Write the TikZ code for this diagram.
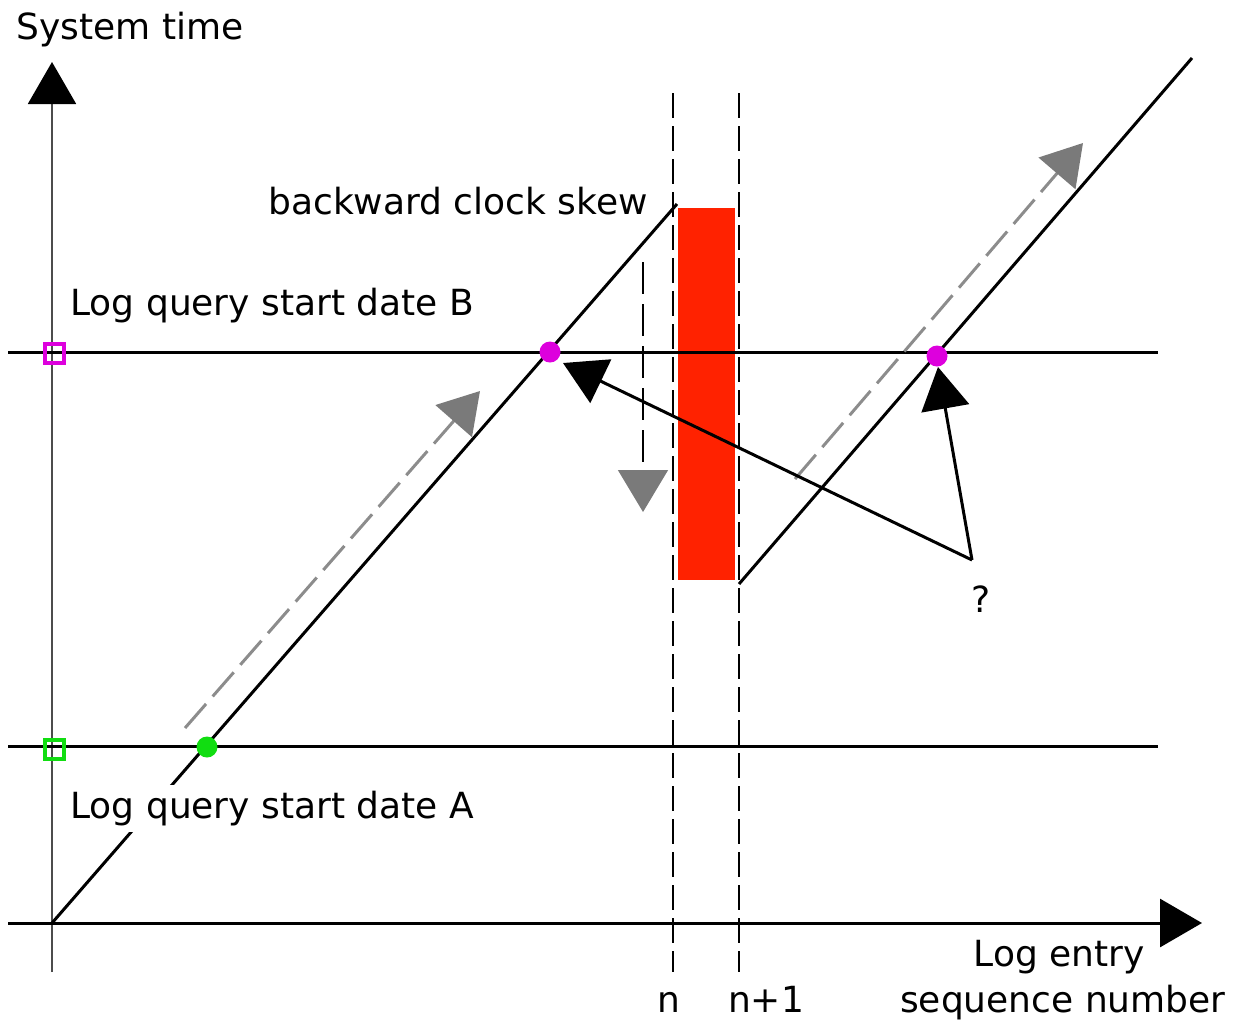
\documentclass[tikz,border=0pt]{standalone}
\usepackage{fontspec}
\setmainfont{DejaVu Sans}
\usetikzlibrary{arrows.meta}
\definecolor{mag}{HTML}{DD00DD}
\definecolor{grn}{HTML}{11DD11}
\definecolor{redbar}{HTML}{FF2200}
\definecolor{arrgray}{HTML}{7A7A7A}
\definecolor{dashgray}{HTML}{8C8C8C}
\begin{document}
\begin{tikzpicture}[x=0.5pt,y=-0.5pt,
  lbl/.style={font=\fontsize{18}{21}\selectfont, inner sep=0pt},
  thick line/.style={line width=1.5pt, black},
  bigtip/.style={-{Triangle[length=21pt,width=24pt]}},
  vdash/.style={line width=0.7pt, dash pattern=on 12.5pt off 4pt},
  graydash/.style={line width=1.5pt, dashgray, dash pattern=on 16pt off 5pt,
     -{Triangle[length=20pt,width=24pt,color=arrgray]}},
  dot/.style={circle, fill=#1, minimum size=10.5pt, inner sep=0pt},
  sq/.style={rectangle, draw=#1, line width=2pt, minimum size=9.5pt, inner sep=0pt, fill=none},
]
\useasboundingbox (0,0) rectangle (1238,1019);

% coordinates
\coordinate (yb) at (52,972);
\coordinate (yt) at (52,62);
\coordinate (xl) at (8,923);
\coordinate (xr) at (1202,923);
\coordinate (o) at (52,923);
\coordinate (d1t) at (677,204);
\coordinate (d2b) at (739,584);
\coordinate (d2t) at (1192,58);
\coordinate (hBl) at (8,352);
\coordinate (hBr) at (1158,352);
\coordinate (hAl) at (8,746);
\coordinate (hAr) at (1158,746);
\coordinate (vnT) at (673,93);
\coordinate (vnB) at (673,972);
\coordinate (vmT) at (739,93);
\coordinate (vmB) at (739,972);
\coordinate (g1s) at (185,728);
\coordinate (g1e) at (480,391);
\coordinate (g2s) at (795,479);
\coordinate (g2e) at (1083,143);
\coordinate (vs) at (643,262);
\coordinate (ve) at (643,512);
\coordinate (q) at (972,560);
\coordinate (t1) at (563,363);
\coordinate (t2) at (938,367);

% red bar
\fill[redbar] (678,208) rectangle (735,580);

% dashed verticals
\draw[vdash] (vnT) -- (vnB);
\draw[vdash] (vmT) -- (vmB);

% axes
\draw[line width=1pt, black!70, -{Triangle[length=21pt,width=24pt,color=black]}] (yb) -- (yt);
\draw[thick line, bigtip] (xl) -- (xr);

% horizontal lines
\draw[thick line] (hBl) -- (hBr);
\draw[thick line] (hAl) -- (hAr);

% diagonals
\draw[thick line] (o) -- (d1t);
\draw[thick line] (d2b) -- (d2t);

% gray dashed arrows
\draw[graydash] (g1s) -- (g1e);
\draw[graydash] (g2s) -- (g2e);
\draw[line width=0.75pt, black, dash pattern=on 16pt off 5pt,
  -{Triangle[length=21pt,width=25pt,color=arrgray]}] (vs) -- (ve);

% question arrows
\node[lbl, anchor=base] (qm) at (981,612) {?};
\draw[thick line, bigtip] (q) -- (t1);
\draw[thick line, bigtip] (q) -- (t2);

% markers
\node[sq=mag] (sqB) at (54,353) {};
\node[sq=grn] (sqA) at (54,749) {};
\node[dot=grn] (dA) at (207,747) {};
\node[dot=mag] (dB1) at (550,352) {};
\node[dot=mag] (dB2) at (937,356) {};

% labels
\node[lbl, anchor=base west] (st) at (16,39) {System time};
\node[lbl, anchor=base west] (bcs) at (268,214) {backward clock skew};
\node[lbl, anchor=base west] (lqB) at (70,315) {Log query start date B};
\node[lbl, anchor=base west, fill=white, inner xsep=2pt, inner ysep=3pt] (lqA) at (66,818) {Log query start date A};
\node[lbl, anchor=base] (ln) at (669,1012) {n};
\node[lbl, anchor=base] (ln1) at (766,1012) {n+1};
\node[lbl, anchor=base east] (le) at (1145,966) {Log entry};
\node[lbl, anchor=base east] (sn) at (1226,1012) {sequence number};
\end{tikzpicture}
\end{document}
